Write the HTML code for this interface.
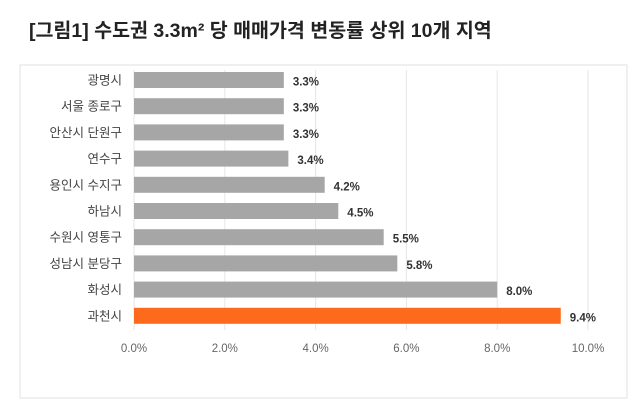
<!DOCTYPE html>
<html><head><meta charset="utf-8"><style>
body{margin:0;background:#fff;width:640px;height:410px;overflow:hidden;font-family:"Liberation Sans","Noto Sans CJK KR",sans-serif}
</style></head><body>
<svg width="640" height="410" xmlns="http://www.w3.org/2000/svg">
<text x="29" y="37" font-size="19.5" font-weight="bold" fill="#222" font-family="Liberation Sans, Noto Sans CJK KR, sans-serif">[그림1] 수도권 3.3m² 당 매매가격 변동률 상위 10개 지역</text>
<rect x="20" y="65" width="607" height="333" fill="#fff" stroke="#e2e2e2"/>
<g id="grid"></g><g id="bars"></g><g id="ticks"></g>
</svg>
<script>
const categories=["광명시","서울 종로구","안산시 단원구","연수구","용인시 수지구","하남시","수원시 영통구","성남시 분당구","화성시","과천시"];
const values=[3.3,3.3,3.3,3.4,4.2,4.5,5.5,5.8,8.0,9.4];
const tickLabels=["0.0%","2.0%","4.0%","6.0%","8.0%","10.0%"];
const tickValues=[0,2,4,6,8,10];
const NS="http://www.w3.org/2000/svg";
const x=v=>134+v*45.4;
const y=i=>80+i*26.2;
function mk(t,a,p){const e=document.createElementNS(NS,t);for(const k in a)e.setAttribute(k,a[k]);p.appendChild(e);return e;}
const F="Liberation Sans, Noto Sans CJK KR, sans-serif";
const g=document.getElementById('grid'),b=document.getElementById('bars'),tk=document.getElementById('ticks');
tickValues.forEach((v,i)=>{
 const l=mk('line',{x1:x(v),x2:x(v),y1:70,y2:330,stroke:'#e6e6e6'},g);
 
 
 const t=mk('text',{x:x(v),y:352,'font-size':11.5,fill:'#666','text-anchor':'middle','font-family':F},tk);
 t.textContent=tickLabels[i];
 
 
});
categories.forEach((c,i)=>{
 const cy=y(i);
 const r=mk('rect',{x:x(0),y:cy-8,width:x(values[i])-x(0),height:16,fill:i==9?'#fe6a1b':'#a6a6a6'},b);
 
 
 const l=mk('text',{x:122,y:cy+4.5,'font-size':12.5,fill:'#444','text-anchor':'end','font-family':F},b);
 l.textContent=c;
 
 
 const v=mk('text',{x:x(values[i])+9,y:cy+5.5,'font-size':11.5,'font-weight':'bold',fill:'#333','font-family':F},b);
 v.textContent=values[i].toFixed(1)+'%';
 
 
});
</script>
</body></html>
